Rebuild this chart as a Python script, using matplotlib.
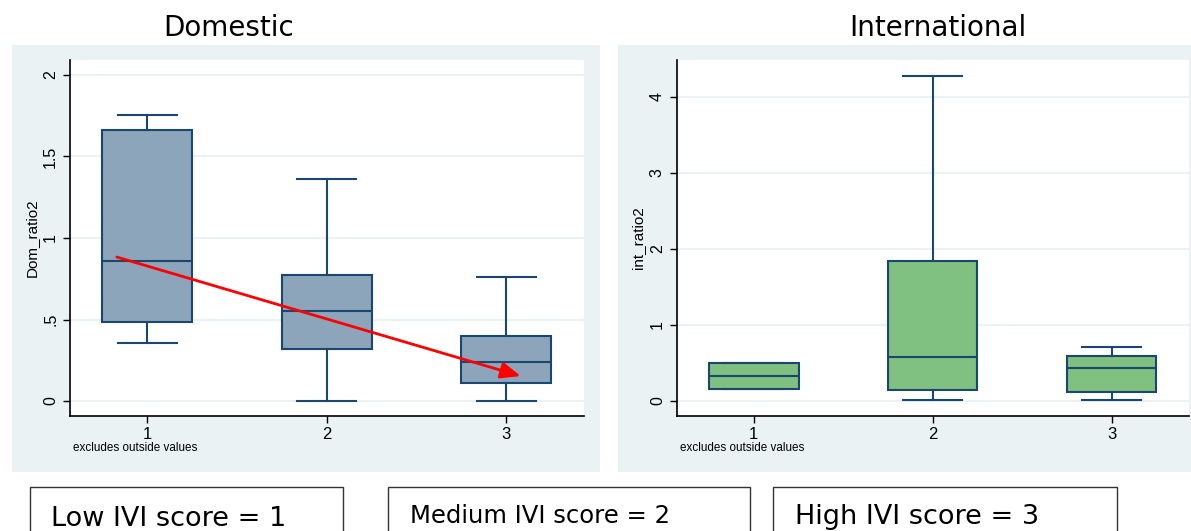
import matplotlib
matplotlib.use("Agg")
import matplotlib.pyplot as plt
from matplotlib.patches import Rectangle

# IVI score groups
groups = [1, 2, 3]

# Domestic: Dom_ratio2 box statistics
dom_whislo = [0.358, 0.0, 0.0]
dom_q1 = [0.483, 0.319, 0.112]
dom_med = [0.861, 0.552, 0.239]
dom_q3 = [1.663, 0.771, 0.397]
dom_whishi = [1.755, 1.362, 0.763]

# International: int_ratio2 box statistics
int_whislo = [0.158, 0.009, 0.013]
int_q1 = [0.158, 0.140, 0.118]
int_med = [0.333, 0.578, 0.438]
int_q3 = [0.503, 1.836, 0.591]
int_whishi = [0.503, 4.275, 0.714]

# trend arrow on the domestic panel (data coords)
arrow_start = (0.83, 0.883)
arrow_end = (3.08, 0.153)

dom_ticks = [0, 0.5, 1, 1.5, 2]
dom_ticklabels = ["0", ".5", "1", "1.5", "2"]
int_ticks = [0, 1, 2, 3, 4]
int_ticklabels = ["0", "1", "2", "3", "4"]

score_labels = ["Low IVI score = 1", "Medium IVI score = 2", "High IVI score = 3"]

bg = "#EAF2F3"
navy = "#1A476F"
W, H = 1191, 531


def fx(px):
    return px / W


def fy(py):
    return 1 - py / H


fig = plt.figure(figsize=(W / 100, H / 100), dpi=100)
fig.patch.set_facecolor("white")

# panel backgrounds
fig.patches.append(Rectangle((fx(12), fy(472)), fx(600) - fx(12), fy(45) - fy(472),
                             transform=fig.transFigure, facecolor=bg, edgecolor="none", zorder=-1))
fig.patches.append(Rectangle((fx(618), fy(472)), fx(1191) - fx(618), fy(45) - fy(472),
                             transform=fig.transFigure, facecolor=bg, edgecolor="none", zorder=-1))

ax1 = fig.add_axes([fx(70), fy(416), fx(583.6) - fx(70), fy(60) - fy(416)])
ax2 = fig.add_axes([fx(676.7), fy(416), fx(1188.7) - fx(676.7), fy(60) - fy(416)])


def stats(lo, q1, med, q3, hi):
    return [dict(whislo=a, q1=b, med=c, q3=d, whishi=e, fliers=[])
            for a, b, c, d, e in zip(lo, q1, med, q3, hi)]


panels = [
    (ax1, stats(dom_whislo, dom_q1, dom_med, dom_q3, dom_whishi), "#8DA5BA",
     (-0.092, 2.092), dom_ticks, dom_ticklabels, "Dom_ratio2"),
    (ax2, stats(int_whislo, int_q1, int_med, int_q3, int_whishi), "#80C080",
     (-0.197, 4.481), int_ticks, int_ticklabels, "int_ratio2"),
]

for ax, st, fill, ylim, ticks, ticklabels, ylabel in panels:
    ax.set_facecolor("white")
    ax.bxp(st, positions=groups, widths=0.5, patch_artist=True, showfliers=False,
           boxprops=dict(facecolor=fill, edgecolor=navy, linewidth=1.5),
           medianprops=dict(color=navy, linewidth=1.5),
           whiskerprops=dict(color=navy, linewidth=1.5),
           capprops=dict(color=navy, linewidth=1.5), capwidths=0.33)
    ax.set_xlim(0.569, 3.431)
    ax.set_ylim(*ylim)
    ax.grid(axis="y", color=bg, linewidth=1.5)
    ax.set_axisbelow(True)
    for s in ["top", "right"]:
        ax.spines[s].set_visible(False)
    for s in ["left", "bottom"]:
        ax.spines[s].set_linewidth(1.2)
    ax.tick_params(axis="both", length=5, width=1, colors="black")
    ax.tick_params(axis="y", pad=3.5)
    ax.tick_params(axis="x", pad=3)
    ax.set_yticks(ticks)
    ax.set_yticklabels(ticklabels, rotation=90, va="center", fontsize=11.5,
                       fontfamily="Liberation Sans")
    ax.set_xticks(groups)
    ax.set_xticklabels([str(g) for g in groups], fontsize=12, fontfamily="Liberation Sans")
    ax.set_ylabel(ylabel, fontsize=11, fontfamily="Liberation Sans")
    ax.yaxis.set_label_coords(-0.061, 0.5)
    ax.text(0.006, -0.09, "excludes outside values", transform=ax.transAxes,
            fontsize=8.4, fontfamily="Liberation Sans", ha="left", va="center")

ax1.annotate("", xy=arrow_end, xytext=arrow_start,
             arrowprops=dict(arrowstyle="-|>,head_length=1.2,head_width=0.5",
                             color="red", lw=2, shrinkA=0, shrinkB=0))

fig.text(fx(228.5), fy(36), "Domestic", fontsize=20, ha="center", va="baseline",
         fontfamily="DejaVu Sans")
fig.text(fx(937.5), fy(36), "International", fontsize=20, ha="center", va="baseline",
         fontfamily="DejaVu Sans")

# IVI score legend boxes at the bottom
box_x = [(30, 343), (388, 750), (773, 1117)]
text_x = [51, 410, 795]
text_base = [526, 523, 524]
text_size = [19.5, 17.5, 19.5]
for (x0, x1), tx, tb, ts, lab in zip(box_x, text_x, text_base, text_size, score_labels):
    fig.patches.append(Rectangle((fx(x0), fy(560)), fx(x1) - fx(x0), fy(487) - fy(560),
                                 transform=fig.transFigure, facecolor="white",
                                 edgecolor="#333333", linewidth=1))
    fig.text(fx(tx), fy(tb), lab, fontsize=ts, ha="left", va="baseline",
             fontfamily="DejaVu Sans")

fig.savefig("out.png", dpi=100)
